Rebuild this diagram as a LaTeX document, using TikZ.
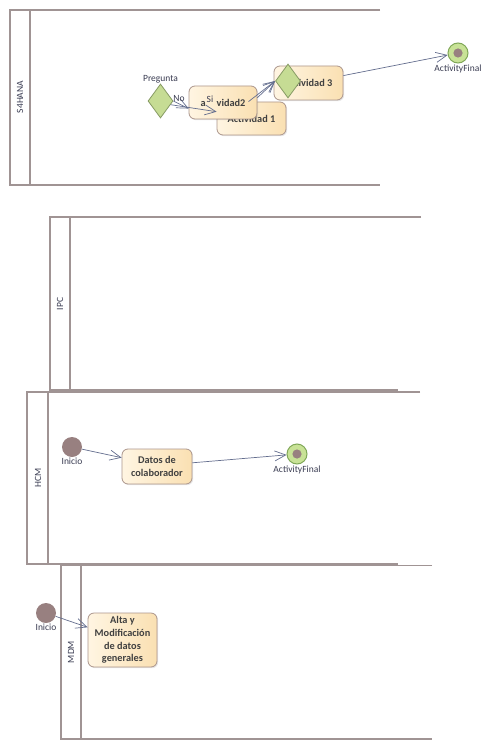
\documentclass[tikz,border=0pt]{standalone}
\usepackage{fontspec}
\setmainfont{Carlito}
\usetikzlibrary{shapes.geometric,arrows.meta,shadows}
\definecolor{lanec}{RGB}{160,148,148}
\definecolor{boxb}{RGB}{172,150,140}
\definecolor{boxl}{RGB}{255,245,226}
\definecolor{boxr}{RGB}{250,224,178}
\definecolor{decf}{RGB}{198,220,148}
\definecolor{decb}{RGB}{135,155,100}
\definecolor{endf}{RGB}{200,226,150}
\definecolor{endb}{RGB}{128,168,88}
\definecolor{dotc}{RGB}{152,128,128}
\definecolor{connc}{RGB}{100,110,142}
\definecolor{txt}{RGB}{64,64,64}
\definecolor{lbl}{RGB}{58,60,82}
\begin{document}
\begin{tikzpicture}[x=1pt,y=-1pt,
  lane/.style={draw=lanec,line width=1.3pt},
  lanelabel/.style={rotate=90,font=\fontsize{9.5}{11}\selectfont,text=lbl,inner sep=0pt},
  act/.style={rectangle,rounded corners=6pt,draw=boxb,line width=0.8pt,
    left color=boxl,right color=boxr,align=center,text=txt,inner sep=1pt,
    font=\bfseries\fontsize{10.3}{12.8}\selectfont,
    drop shadow={shadow xshift=1.2pt,shadow yshift=-1.2pt,opacity=0.18}},
  dec/.style={diamond,draw=decb,fill=decf,line width=0.8pt,minimum width=25pt,minimum height=34pt,inner sep=0pt},
  fin/.style={circle,draw=endb,fill=endf,line width=1pt,minimum size=20pt,inner sep=0pt,
    path picture={\fill[dotc] (path picture bounding box.center) circle (4.6pt);}},
  ini/.style={circle,fill=dotc,minimum size=20pt,inner sep=0pt},
  lab/.style={font=\fontsize{9.5}{11}\selectfont,text=lbl,inner sep=0pt},
  conn/.style={draw=connc,line width=0.7pt,-{Straight Barb[length=11pt,width=10pt,line width=0.7pt]}}
]
\useasboundingbox (0,0) rectangle (488,749);
\fill[white] (0,0) rectangle (488,749);

% ---------- lanes ----------
\draw[lane] (380,10) -- (10,10) -- (10,185) -- (380,185);
\draw[lane] (30,10) -- (30,185);
\node[lanelabel] (lS4) at (20,97) {S4HANA};

\draw[lane] (421,217) -- (50,217) -- (50,390) -- (398,390);
\draw[lane] (70,217) -- (70,390);
\node[lanelabel] (lIPC) at (60,304) {IPC};

\draw[lane] (420,392) -- (27,392) -- (27,564) -- (398,564);
\draw[lane] (48,392) -- (48,564);
\node[lanelabel] (lHCM) at (38,478) {HCM};

\draw[lane] (432,565.5) -- (61,565.5) -- (61,739) -- (432,739);
\draw[lane] (81,565.5) -- (81,739);
\node[lanelabel] (lMDM) at (71,652) {MDM};

% ---------- S4HANA ----------
\node[dec] (preg) at (160.5,101) {};
\node[lab,anchor=south] (pregl) at (160.5,83) {Pregunta};
\node[act,minimum width=69pt,minimum height=33pt] (a1) at (251.5,118.5) {Actividad 1};
\node[act,minimum width=68pt,minimum height=33pt] (a2) at (223,102.5) {a\hspace{11pt}vidad2};
\node[act,minimum width=69pt,minimum height=34pt] (a3) at (308.5,83) {Actividad 3};
\node[dec] (dec2) at (288,81) {};
\node[fin] (fin1) at (458,53) {};
\node[lab,anchor=north] (fin1l) at (458,65) {ActivityFinal};

\draw[conn] (preg.east) -- (a2.190);
\draw[conn] (preg.-20) -- (a1.169);
\node[lab] (nol) at (179,98) {No};
\node[lab] (sil) at (210,99) {Si};
\draw[conn] (a2.8) -- (dec2.west);
\draw[conn] (a1.100) -- (dec2.west);
\draw[conn] (a3.12) -- (fin1);

% ---------- HCM ----------
\node[ini] (ini1) at (72,447) {};
\node[lab,anchor=north] (ini1l) at (72,458) {Inicio};
\node[act,minimum width=70pt,minimum height=35pt] (datos) at (157,466.5) {Datos de\\colaborador};
\node[fin] (fin2) at (297,454) {};
\node[lab,anchor=north] (fin2l) at (297,466) {ActivityFinal};
\draw[conn] (ini1) -- (datos.166);
\draw[conn] (datos.6) -- (fin2);

% ---------- MDM ----------
\node[ini] (ini2) at (46,613) {};
\node[lab,anchor=north] (ini2l) at (46,624) {Inicio};
\node[act,minimum width=69pt,minimum height=54pt] (alta) at (122.5,640) {Alta y\\Modificación\\de datos\\generales};
\draw[conn] (ini2) -- (alta.160);
\end{tikzpicture}
\end{document}
